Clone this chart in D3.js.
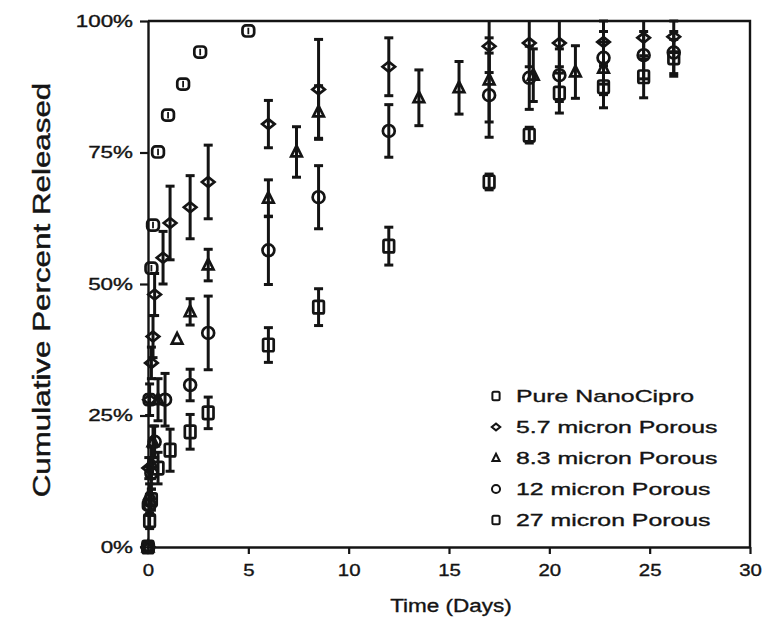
<!DOCTYPE html>
<html>
<head>
<meta charset="utf-8">
<script src="https://cdn.jsdelivr.net/npm/d3@7"></script>
<style>
  body { margin: 0; background: #fff; }
  svg { display: block; font-family: "Liberation Sans", Arial, sans-serif; }
  svg text { stroke: #141414; stroke-width: 0.35px; }
</style>
</head>
<body>
<div id="chart"></div>
<script>
//******************************************************************************
//**  Cumulative release chart
//******************************************************************************

// x ticks / y ticks
var xTicks = [0, 5, 10, 15, 20, 25, 30];
var yTicks = [0, 25, 50, 75, 100];

// Pure NanoCipro (no error bars)
var nanoDays = [0, 0.04, 0.08, 0.17, 0.25, 0.5, 1, 1.75, 2.6, 5];
var nanoVals = [0, 8, 28, 53, 61.2, 75.1, 82.1, 88, 94.1, 98.1];

// 5.7 micron Porous
var p57Days = [0, 0.04, 0.08, 0.17, 0.25, 0.33, 0.75, 1.1, 2.1, 3, 6, 8.5, 12, 17, 19, 20.5, 22.7, 24.7, 26.2];
var p57Vals = [0, 15, 28, 35, 40, 48, 55, 61.6, 64.6, 69.4, 80.4, 87, 91.3, 95.2, 95.8, 95.8, 96, 96.8, 97];
var p57Err  = [0, 2, 3, 3, 4, 4, 5, 7, 6, 7, 4.5, 9.5, 5.5, 5, 4.5, 4.5, 4, 4, 3];

// 8.3 micron Porous
var p83Days = [0, 0.08, 0.17, 0.25, 0.5, 1.45, 2.1, 3, 6, 7.4, 8.5, 13.5, 15.5, 17, 19.2, 21.3, 22.7];
var p83Vals = [0, 10, 16, 20, 28, 39.5, 44.7, 53.6, 66.3, 75.1, 82.7, 85.4, 87.3, 88.8, 89.7, 90.3, 91];
var p83Err  = [0, 2, 3, 3, 4, 0, 2.5, 3, 3.5, 4.8, 5, 5.3, 5, 8, 5, 5, 5];

// 12 micron Porous
var p12Days = [0, 0.08, 0.17, 0.33, 0.85, 2.1, 3, 6, 8.5, 12, 17, 19, 20.5, 22.7, 24.7, 26.2];
var p12Vals = [0, 8, 14, 20, 28, 30.8, 40.7, 56.4, 66.5, 79.1, 85.9, 89.2, 89.7, 93, 93.5, 94];
var p12Err  = [0, 2, 3, 3, 5, 3, 7, 6.5, 6, 5, 8, 6, 5, 5, 4.5, 4];

// 27 micron Porous
var p27Days = [0, 0.08, 0.17, 0.5, 1.1, 2.1, 3, 6, 8.5, 12, 17, 19, 20.5, 22.7, 24.7, 26.2];
var p27Vals = [0, 5, 9, 15, 18.4, 21.9, 25.5, 38.4, 45.6, 57.2, 69.4, 78.3, 86.3, 87.5, 89.4, 93];
var p27Err  = [0, 1.5, 2, 3, 4, 3.3, 3, 3.3, 3.5, 3.6, 1.5, 1.5, 3.8, 4, 4, 3.5];

var seriesNames = ["Pure NanoCipro", "5.7 micron Porous", "8.3 micron Porous", "12 micron Porous", "27 micron Porous"];
var seriesShapes = ["nano", "diamond", "triangle", "circle", "square"];


var width = 768, height = 634;
var margin = {top: 21, right: 18, bottom: 87, left: 148};
var ink = "#141414";

var svg = d3.select("#chart").append("svg")
    .attr("width", width)
    .attr("height", height);

var x = d3.scaleLinear().domain([0, 30]).range([margin.left, width - margin.right]);
var y = d3.scaleLinear().domain([0, 100]).range([height - margin.bottom, margin.top]);


//**************************************************************************
//** stretch
//**************************************************************************
// the scanned lettering is wider than any installed face
var stretch = function(sel, k){
    sel.each(function(){
        var w = this.getComputedTextLength();
        d3.select(this).attr("textLength", w * k).attr("lengthAdjust", "spacingAndGlyphs");
    });
};


//**************************************************************************
//** axes
//**************************************************************************
var xAxis = svg.append("g")
    .attr("transform", `translate(0,${y(0)})`)
    .call(d3.axisBottom(x).tickValues(xTicks).tickSize(7).tickPadding(10).tickSizeOuter(0));

var yAxis = svg.append("g")
    .attr("transform", `translate(${x(0)},0)`)
    .call(d3.axisLeft(y).tickValues(yTicks).tickSize(8).tickPadding(7)
        .tickFormat(function(d){ return d + "%"; }).tickSizeOuter(0));

[xAxis, yAxis].forEach(function(g){
    g.select(".domain").attr("stroke", ink).attr("stroke-width", 2.4);
    g.selectAll(".tick line").attr("stroke", ink).attr("stroke-width", 2.2);
    g.selectAll(".tick text").attr("fill", ink).style("font-size", "16px");
});
xAxis.selectAll(".tick text").style("font-size", "17px");
stretch(xAxis.selectAll(".tick text"), 1.2);
stretch(yAxis.selectAll(".tick text"), 1.4);

// top and right frame
svg.append("path")
    .attr("d", `M${x(0)},${y(100)}H${x(30)}V${y(0)}`)
    .attr("fill", "none")
    .attr("stroke", ink)
    .attr("stroke-width", 2.4);


//**************************************************************************
//** titles
//**************************************************************************
var xTitle = svg.append("text")
    .attr("x", 451)
    .attr("y", 612)
    .attr("text-anchor", "middle")
    .attr("fill", ink)
    .style("font-size", "18px")
    .text("Time (Days)");
stretch(xTitle, 1.25);

var yTitle = svg.append("text")
    .attr("transform", "translate(50,290) rotate(-90) scale(1,1.25)")
    .attr("text-anchor", "middle")
    .attr("fill", ink)
    .style("font-size", "19px")
    .text("Cumulative Percent Released");
stretch(yTitle, 1.65);


//**************************************************************************
//** markers
//**************************************************************************
var drawMarker = function(g, shape, cx, cy, s){
    var h = s / 2;
    if (shape === "diamond"){
        g.append("path")
            .attr("d", `M${cx},${cy - h * 0.8}L${cx + h},${cy}L${cx},${cy + h * 0.8}L${cx - h},${cy}Z`);
    }
    else if (shape === "triangle"){
        g.append("path")
            .attr("d", `M${cx},${cy - h}L${cx + h * 0.85},${cy + h * 0.7}L${cx - h * 0.85},${cy + h * 0.7}Z`);
    }
    else if (shape === "circle"){
        g.append("circle").attr("cx", cx).attr("cy", cy).attr("r", h * 0.95);
    }
    else if (shape === "square"){
        g.append("rect").attr("x", cx - h * 0.85).attr("y", cy - h).attr("width", h * 1.7).attr("height", s).attr("rx", 1.5);
    }
    else if (shape === "nano"){
        g.append("rect").attr("x", cx - h * 0.9).attr("y", cy - h * 0.85).attr("width", h * 1.8).attr("height", h * 1.7).attr("rx", 3.5);
        g.append("line").attr("x1", cx).attr("x2", cx).attr("y1", cy - h * 0.5).attr("y2", cy + h * 0.5).attr("stroke-width", 1.8);
    }
};

var plot = svg.append("g");

var drawSeries = function(shape, days, vals, errs){
    var g = plot.append("g")
        .attr("fill", "none")
        .attr("stroke", ink)
        .attr("stroke-width", 2.7);

    if (errs){
        days.forEach(function(d, i){
            if (!errs[i]) return;
            var x0 = x(d);
            var top = y(Math.min(vals[i] + errs[i], 100)), bot = y(vals[i] - errs[i]);
            g.append("line").attr("x1", x0).attr("x2", x0).attr("y1", top).attr("y2", bot).attr("stroke-width", 3);
            if (vals[i] + errs[i] <= 100)
                g.append("line").attr("x1", x0 - 4.5).attr("x2", x0 + 4.5).attr("y1", top).attr("y2", top).attr("stroke-width", 3);
            g.append("line").attr("x1", x0 - 4.5).attr("x2", x0 + 4.5).attr("y1", bot).attr("y2", bot).attr("stroke-width", 3);
        });
    }

    days.forEach(function(d, i){
        drawMarker(g, shape, x(d), y(vals[i]), shape === "nano" ? 13 : 12.5);
    });
};

drawSeries("square", p27Days, p27Vals, p27Err);
drawSeries("circle", p12Days, p12Vals, p12Err);
drawSeries("triangle", p83Days, p83Vals, p83Err);
drawSeries("diamond", p57Days, p57Vals, p57Err);
drawSeries("nano", nanoDays, nanoVals, null);


//**************************************************************************
//** legend
//**************************************************************************
var legend = svg.append("g").attr("transform", "translate(496,396)");
seriesNames.forEach(function(name, i){
    var row = legend.append("g").attr("transform", `translate(0,${i * 31})`);
    var mg = row.append("g").attr("fill", "none").attr("stroke", ink).attr("stroke-width", 2);
    drawMarker(mg, seriesShapes[i] === "nano" ? "square" : seriesShapes[i], 0, 0, 8.5);
    var t = row.append("text")
        .attr("x", 20)
        .attr("dy", "0.36em")
        .attr("fill", ink)
        .style("font-size", "17px")
        .text(name);
    stretch(t, 1.46);
});
</script>
</body>
</html>
